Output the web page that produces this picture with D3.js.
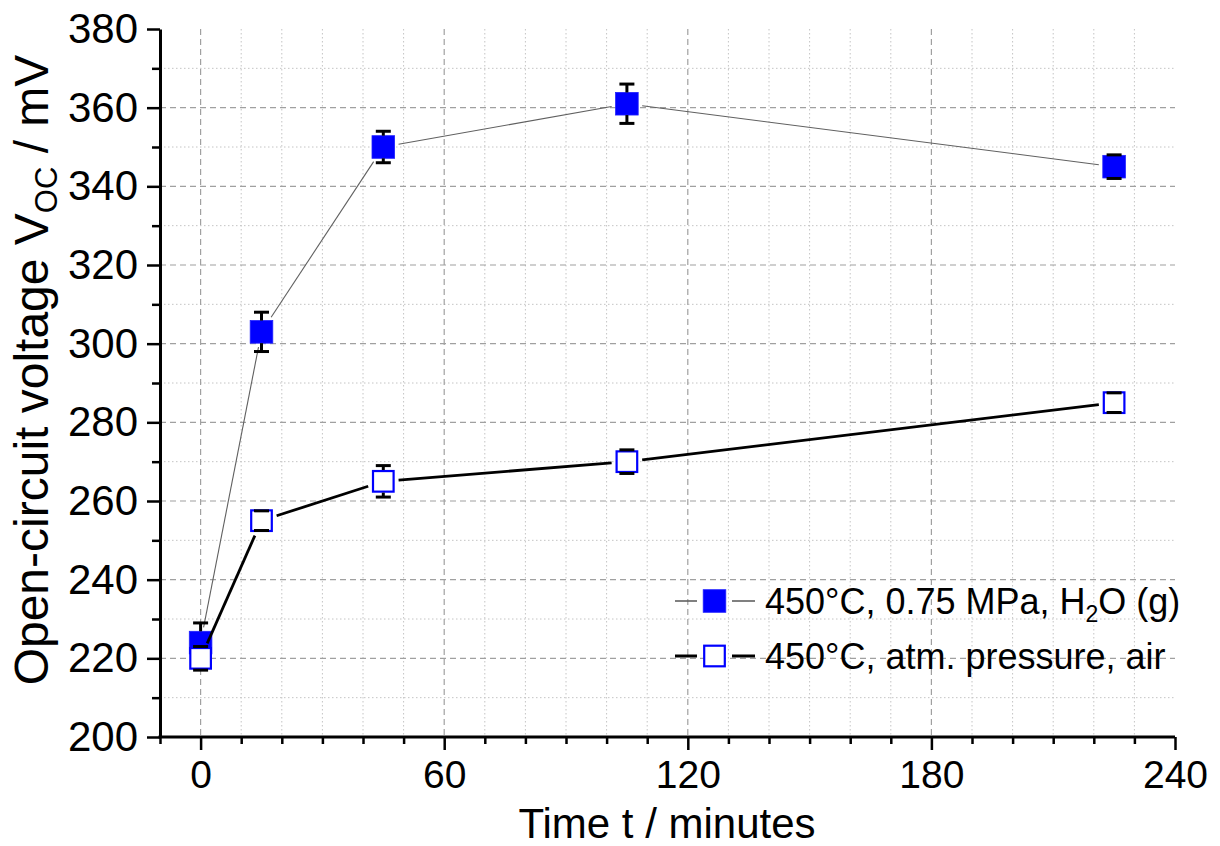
<!DOCTYPE html>
<html>
<head>
<meta charset="utf-8">
<script src="https://cdn.jsdelivr.net/npm/d3@7"></script>
<style>
  html, body { margin: 0; padding: 0; background: #fff; }
  svg { display: block; font-family: "Liberation Sans", Arial, sans-serif; }
</style>
</head>
<body>
<svg id="chart" width="1220" height="846"></svg>
<script>
// Measurement times (minutes)
const times = [0, 15, 45, 105, 225];
// 450 °C, 0.75 MPa, water vapour
const vocSteam = [224, 303, 350, 361, 345];
const errSteam = [5, 5, 4, 5, 3];
// 450 °C, atmospheric pressure, air
const vocAir = [220, 255, 265, 270, 285];
const errAir = [3, 2.5, 4, 3, 2.5];

const xMajorTicks = [0, 60, 120, 180, 240];
const xMinorTicks = [-10, 10, 20, 30, 40, 50, 70, 80, 90, 100, 110, 130, 140, 150, 160, 170, 190, 200, 210, 220, 230];
const yMajorTicks = [200, 220, 240, 260, 280, 300, 320, 340, 360, 380];
const yMinorTicks = [210, 230, 250, 270, 290, 310, 330, 350, 370];

const svg = d3.select("#chart");
svg.append("rect").attr("width", 1220).attr("height", 846).attr("fill", "#fff");

const x = d3.scaleLinear().domain([-10, 240]).range([160, 1175]);
const y = d3.scaleLinear().domain([200, 380]).range([737, 29]);

// grid: dotted minor, dashed major
const grid = svg.append("g");
grid.selectAll(".vmin").data(xMinorTicks.filter(d => d > -10)).join("line")
  .attr("x1", d => x(d)).attr("x2", d => x(d)).attr("y1", y(380)).attr("y2", y(200))
  .attr("stroke", "#c4c4c4").attr("stroke-width", 1).attr("stroke-dasharray", "1.5,2.5");
grid.selectAll(".hmin").data(yMinorTicks).join("line")
  .attr("x1", x(-10)).attr("x2", x(240)).attr("y1", d => y(d)).attr("y2", d => y(d))
  .attr("stroke", "#c4c4c4").attr("stroke-width", 1).attr("stroke-dasharray", "1.5,2.5");
grid.selectAll(".vmaj").data(xMajorTicks.filter(d => d < 240)).join("line")
  .attr("x1", d => x(d)).attr("x2", d => x(d)).attr("y1", y(380)).attr("y2", y(200))
  .attr("stroke", "#a0a0a0").attr("stroke-width", 1.2).attr("stroke-dasharray", "6,4");
grid.selectAll(".hmaj").data(yMajorTicks.filter(d => d > 200 && d < 380)).join("line")
  .attr("x1", x(-10)).attr("x2", x(240)).attr("y1", d => y(d)).attr("y2", d => y(d))
  .attr("stroke", "#a0a0a0").attr("stroke-width", 1.2).attr("stroke-dasharray", "6,4");

// axes
function styleAxis(g, size) {
  g.select(".domain").attr("stroke", "#000").attr("stroke-width", 3);
  g.selectAll(".tick line").attr("stroke", "#000").attr("stroke-width", 2.5);
  g.selectAll(".tick text").attr("fill", "#000").attr("font-size", size)
    .attr("font-family", "'Liberation Sans', Arial, sans-serif");
}
const yAxisMinor = svg.append("g").attr("transform", `translate(${x(-10)},0)`)
  .call(d3.axisLeft(y).tickValues(yMinorTicks).tickSize(8).tickSizeOuter(0).tickFormat(""));
yAxisMinor.select(".domain").remove();
yAxisMinor.selectAll(".tick line").attr("stroke", "#000").attr("stroke-width", 2.5);

const yAxis = svg.append("g").attr("transform", `translate(${x(-10)},0)`)
  .call(d3.axisLeft(y).tickValues(yMajorTicks).tickSize(13).tickSizeOuter(0).tickPadding(9));
styleAxis(yAxis, 42);

const xAxisMinor = svg.append("g").attr("transform", `translate(0,${y(200)})`)
  .call(d3.axisBottom(x).tickValues(xMinorTicks).tickSize(7).tickSizeOuter(0).tickFormat(""));
xAxisMinor.select(".domain").remove();
xAxisMinor.selectAll(".tick line").attr("stroke", "#000").attr("stroke-width", 2.5);

const xAxis = svg.append("g").attr("transform", `translate(0,${y(200)})`)
  .call(d3.axisBottom(x).tickValues(xMajorTicks).tickSize(13).tickSizeOuter(0).tickPadding(10));
styleAxis(xAxis, 39);
xAxis.select(".domain").attr("d", `M${x(-10) - 1.5},0H${x(240)}`);

// axis titles
svg.append("text").attr("x", 667).attr("y", 838).attr("text-anchor", "middle")
  .attr("font-size", 42).attr("fill", "#000").text("Time t / minutes");

const yTitle = svg.append("text").attr("transform", "translate(48,370) rotate(-90)")
  .attr("text-anchor", "middle").attr("font-size", 48).attr("fill", "#000");
yTitle.append("tspan").text("Open-circuit voltage V");
yTitle.append("tspan").attr("font-size", 31).attr("dy", 9).text("OC");
yTitle.append("tspan").attr("dy", -9).text(" / mV");

// series drawing
const HALF = 11.3;
const GAP = 4;
function edgeDist(ux, uy, h) { return h / Math.max(Math.abs(ux), Math.abs(uy)); }

function drawSeries(vals, errs, opts) {
  const g = svg.append("g");
  const pts = times.map((t, i) => [x(t), y(vals[i])]);
  // connecting segments, stopping short of each symbol
  for (let i = 0; i < pts.length - 1; i++) {
    const [x0, y0] = pts[i], [x1, y1] = pts[i + 1];
    const len = Math.hypot(x1 - x0, y1 - y0);
    const ux = (x1 - x0) / len, uy = (y1 - y0) / len;
    const d = edgeDist(ux, uy, HALF) + GAP;
    g.append("line")
      .attr("x1", x0 + ux * d).attr("y1", y0 + uy * d)
      .attr("x2", x1 - ux * d).attr("y2", y1 - uy * d)
      .attr("stroke", opts.lineColor).attr("stroke-width", opts.lineWidth);
  }
  // symbols
  g.selectAll("rect.sym").data(times).join("rect")
    .attr("x", (t) => x(t) - HALF + (opts.filled ? 0 : 1))
    .attr("y", (t, i) => y(vals[i]) - HALF + (opts.filled ? 0 : 1))
    .attr("width", opts.filled ? 2 * HALF : 2 * HALF - 2)
    .attr("height", opts.filled ? 2 * HALF : 2 * HALF - 2)
    .attr("fill", opts.filled ? "#0000ff" : "#fff")
    .attr("stroke", opts.filled ? "#2020ff" : "#0000ff")
    .attr("stroke-width", opts.filled ? 0.8 : 2.2);
  // error bars, drawn outward from the symbol edge
  times.forEach((t, i) => {
    const cx = x(t);
    const yc = y(vals[i]);
    const yTop = y(vals[i] + errs[i]);
    const yBot = y(vals[i] - errs[i]);
    if (yc - yTop > HALF) g.append("line").attr("x1", cx).attr("x2", cx)
      .attr("y1", yc - HALF).attr("y2", yTop).attr("stroke", "#000").attr("stroke-width", 3);
    if (yBot - yc > HALF) g.append("line").attr("x1", cx).attr("x2", cx)
      .attr("y1", yc + HALF).attr("y2", yBot).attr("stroke", "#000").attr("stroke-width", 3);
    [yTop, yBot].forEach(yy => g.append("line")
      .attr("x1", cx - 7.5).attr("x2", cx + 7.5).attr("y1", yy).attr("y2", yy)
      .attr("stroke", "#000").attr("stroke-width", 3));
  });
}

drawSeries(vocSteam, errSteam, { filled: true, lineColor: "#606060", lineWidth: 1.1 });
drawSeries(vocAir, errAir, { filled: false, lineColor: "#000", lineWidth: 2.8 });

// legend
const legend = svg.append("g");
const legendRows = [
  { y: 601, filled: true, lineColor: "#606060", lineWidth: 1.6 },
  { y: 656, filled: false, lineColor: "#000", lineWidth: 3 }
];
legendRows.forEach((r) => {
  legend.append("line").attr("x1", 675).attr("x2", 697).attr("y1", r.y).attr("y2", r.y)
    .attr("stroke", r.lineColor).attr("stroke-width", r.lineWidth);
  legend.append("line").attr("x1", 732).attr("x2", 755).attr("y1", r.y).attr("y2", r.y)
    .attr("stroke", r.lineColor).attr("stroke-width", r.lineWidth);
  legend.append("rect")
    .attr("x", 714.5 - HALF + (r.filled ? 0 : 1)).attr("y", r.y - HALF + (r.filled ? 0 : 1))
    .attr("width", r.filled ? 2 * HALF : 2 * HALF - 2).attr("height", r.filled ? 2 * HALF : 2 * HALF - 2)
    .attr("fill", r.filled ? "#0000ff" : "#fff")
    .attr("stroke", r.filled ? "#2020ff" : "#0000ff")
    .attr("stroke-width", r.filled ? 0.8 : 2.2);
});
const l1 = legend.append("text").attr("x", 765).attr("y", 614).attr("font-size", 36).attr("fill", "#000");
l1.append("tspan").text("450°C, 0.75 MPa, H");
l1.append("tspan").attr("font-size", 23).attr("dy", 8).text("2");
l1.append("tspan").attr("dy", -8).text("O (g)");
legend.append("text").attr("x", 765).attr("y", 669).attr("font-size", 36).attr("fill", "#000")
  .text("450°C, atm. pressure, air");
</script>
</body>
</html>
